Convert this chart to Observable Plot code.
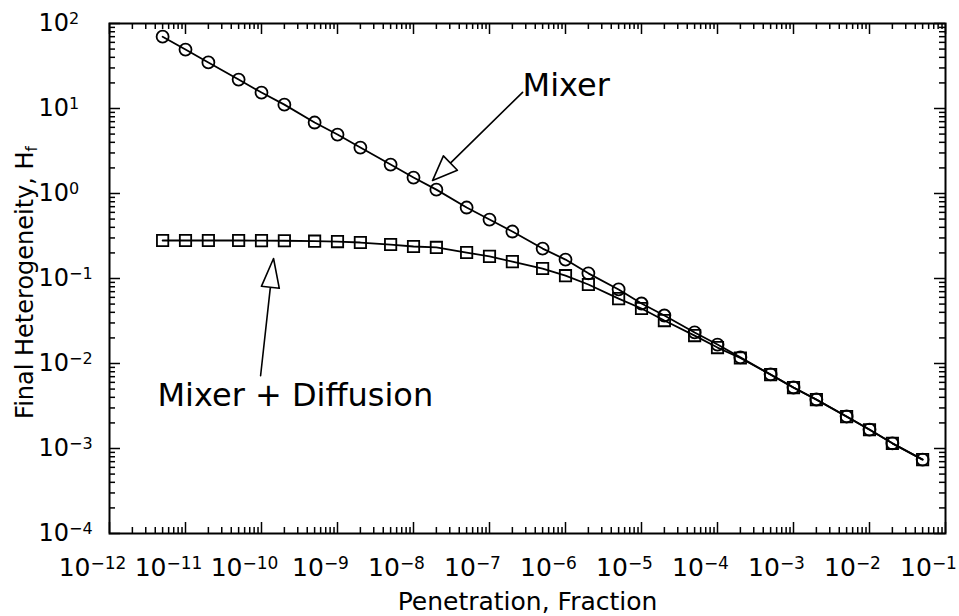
<!DOCTYPE html>
<html><head><meta charset="utf-8">
<script src="https://cdn.jsdelivr.net/npm/d3@7"></script>
<script src="https://cdn.jsdelivr.net/npm/@observablehq/plot@0.6"></script>
<style>body{margin:0;background:#fff} svg{display:block}</style>
</head><body><div id="chart"></div>
<script>
// ---- data ----
const penetration = [5e-12, 1e-11, 2e-11, 5e-11, 1e-10, 2e-10, 5e-10, 1e-9, 2e-9, 5e-9,
  1e-8, 2e-8, 5e-8, 1e-7, 2e-7, 5e-7, 1e-6, 2e-6, 5e-6, 1e-5, 2e-5, 5e-5,
  1e-4, 2e-4, 5e-4, 1e-3, 2e-3, 5e-3, 1e-2, 2e-2, 5e-2];
const mixer = [70, 49.4, 34.8, 21.9, 15.4, 11.1, 6.84, 4.94, 3.47, 2.19,
  1.54, 1.11, 0.684, 0.494, 0.357, 0.225, 0.167, 0.115, 0.0743, 0.0508, 0.0367, 0.0232,
  0.0167, 0.0118, 0.00743, 0.00522, 0.00377, 0.00238, 0.00167, 0.00115, 0.00074];
const mixerDiffusion = [0.28, 0.28, 0.28, 0.28, 0.279, 0.278, 0.275, 0.272, 0.265, 0.251,
  0.238, 0.232, 0.202, 0.182, 0.158, 0.131, 0.108, 0.085, 0.058, 0.0444, 0.032, 0.0213,
  0.0154, 0.0116, 0.0074, 0.0052, 0.00376, 0.00237, 0.00166, 0.00115, 0.00074];
const xTickExponents = [-12, -11, -10, -9, -8, -7, -6, -5, -4, -3, -2, -1];
const yTickExponents = [-4, -3, -2, -1, 0, 1, 2];
const minorMultipliers = [2, 3, 4, 5, 6, 7, 8, 9];
const xTitle = "Penetration, Fraction";
const yTitle = "Final Heterogeneity, H";
const ySubscript = "f";
const labels = [
  {label: "Mixer", x: 2.72e-7, y: 18.7, tipX: 1.78e-8, tipY: 1.42},
  {label: "Mixer + Diffusion", x: 4.28e-12, y: 4.2e-3, tipX: 1.44e-10, tipY: 0.172}
];

// ---- derived tables ----
const rows = penetration.map((p, i) => ({p, mixer: mixer[i], md: mixerDiffusion[i]}));
const xMajor = xTickExponents.map(e => Math.pow(10, e));
const yMajor = yTickExponents.map(e => Math.pow(10, e));
const minorOf = exps => exps.slice(0, -1).flatMap(e => minorMultipliers.map(k => k * Math.pow(10, e)));
const xMinor = minorOf(xTickExponents);
const yMinor = minorOf(yTickExponents);

const W = 959, H = 616, mt = 23, mr = 14, mb = 83, ml = 109;
const fh = H - mt - mb, fw = W - ml - mr;
const fmt = d => "10^" + Math.round(Math.log10(d));

const hollowArrow = (headLen, half) => ({
  draw(context, l) {
    context.moveTo(0, 0);
    context.lineTo(0, -l + headLen);
    context.moveTo(0, -l);
    context.lineTo(-half, -l + headLen);
    context.lineTo(half, -l + headLen);
    context.closePath();
  }
});

const tk = {stroke: "black", strokeWidth: 1.5};
const chart = Plot.plot({
  width: W, height: H,
  marginTop: mt, marginRight: mr, marginBottom: mb, marginLeft: ml,
  style: {fontFamily: "'DejaVu Sans ExtraLight', 'DejaVu Sans'", background: "white", color: "black"},
  x: {type: "log", domain: [1e-12, 1e-1]},
  y: {type: "log", domain: [1e-4, 1e2]},
  marks: [
    Plot.ruleX(xMajor, {x: d => d, insetTop: fh - 11, ...tk}),
    Plot.ruleX(xMajor, {x: d => d, insetBottom: fh - 11, ...tk}),
    Plot.ruleX(xMinor, {x: d => d, insetTop: fh - 6, ...tk}),
    Plot.ruleX(xMinor, {x: d => d, insetBottom: fh - 6, ...tk}),
    Plot.ruleY(yMajor, {y: d => d, insetRight: fw - 11, ...tk}),
    Plot.ruleY(yMajor, {y: d => d, insetLeft: fw - 11, ...tk}),
    Plot.ruleY(yMinor, {y: d => d, insetRight: fw - 6, ...tk}),
    Plot.ruleY(yMinor, {y: d => d, insetLeft: fw - 6, ...tk}),
    Plot.frame({stroke: "black", strokeWidth: 2}),
    Plot.axisX({ticks: xMajor, tickSize: 0, tickPadding: 25, fontSize: 25, dx: -17, tickFormat: fmt, label: null}),
    Plot.axisY({ticks: yMajor, tickSize: 0, tickPadding: 71, textAnchor: "start", fontSize: 24, tickFormat: fmt, label: null}),
    Plot.line(rows, {x: "p", y: "mixer", stroke: "black", strokeWidth: 1.8}),
    Plot.line(rows, {x: "p", y: "md", stroke: "black", strokeWidth: 1.8}),
    Plot.dot(rows, {x: "p", y: "mixer", symbol: "circle", r: 6, stroke: "black", fill: "none", strokeWidth: 1.8}),
    Plot.dot(rows, {x: "p", y: "md", symbol: "square", r: 6.4, stroke: "black", fill: "none", strokeWidth: 1.8}),
    Plot.text(labels, {x: "x", y: "y", text: "label", textAnchor: "start", lineAnchor: "middle", fontSize: 32, fill: "black"}),
    Plot.vector([labels[0]], {x: "tipX", y: "tipY", rotate: -134.4, length: 126, anchor: "end",
      shape: hollowArrow(25, 10), stroke: "black", strokeWidth: 1.6, fill: "none"}),
    Plot.vector([labels[1]], {x: "tipX", y: "tipY", rotate: 6.3, length: 118, anchor: "end",
      shape: hollowArrow(29, 9), stroke: "black", strokeWidth: 1.6, fill: "none"}),
    Plot.text([xTitle], {frameAnchor: "bottom", dy: 76, lineAnchor: "bottom", fontSize: 25, text: d => d, fill: "black"}),
    Plot.text([yTitle], {frameAnchor: "left", dx: -77, dy: 4, rotate: -90, lineAnchor: "bottom", textAnchor: "middle", fontSize: 24, text: d => d, fill: "black"})
  ]
});

function sup(t, size, dy) {
  const s = t.textContent;
  if (!s.includes("^")) return;
  const [base, exp] = s.split("^");
  t.textContent = base;
  const ts = document.createElementNS("http://www.w3.org/2000/svg", "tspan");
  ts.setAttribute("dy", dy);
  ts.setAttribute("font-size", size);
  ts.textContent = exp.replace("-", "\u2212");
  t.appendChild(ts);
}
chart.querySelectorAll('[aria-label="x-axis tick label"] text').forEach(t => sup(t, 17, -7));
chart.querySelectorAll('[aria-label="y-axis tick label"] text').forEach(t => sup(t, 16, -7));
chart.querySelectorAll("text").forEach(t => {
  if (t.textContent === yTitle) {
    const ts = document.createElementNS("http://www.w3.org/2000/svg", "tspan");
    ts.setAttribute("dy", 4);
    ts.setAttribute("font-size", 15);
    ts.textContent = ySubscript;
    t.appendChild(ts);
  }
});
document.getElementById("chart").appendChild(chart);
</script>
</body></html>
